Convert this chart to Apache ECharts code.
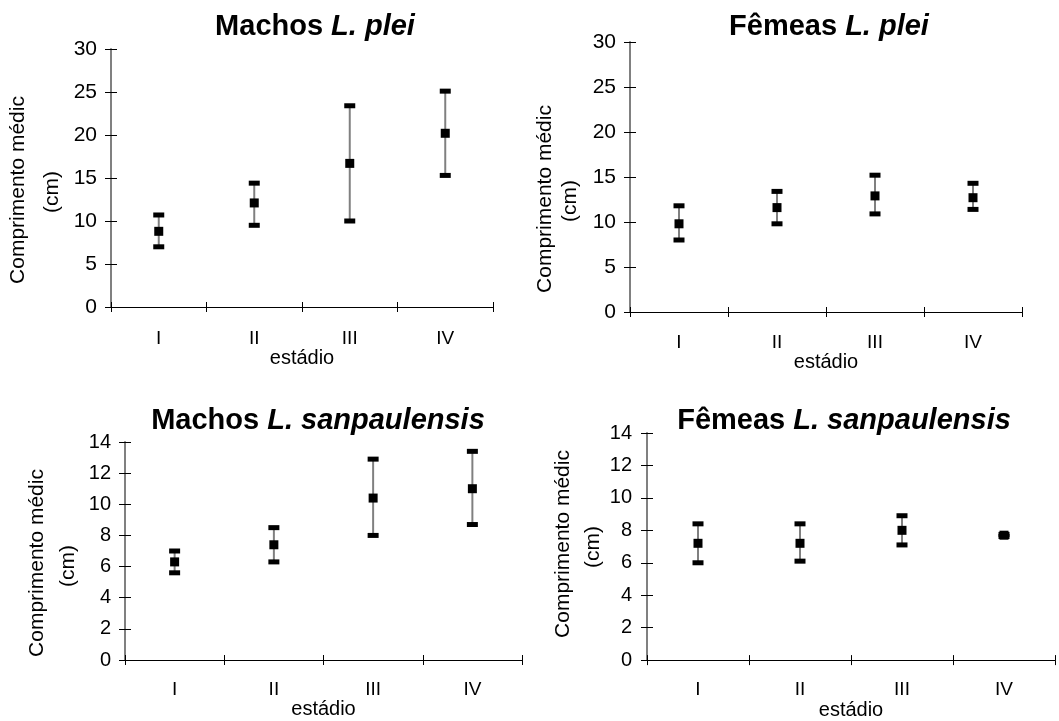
<!DOCTYPE html>
<html>
<head>
<meta charset="utf-8">
<script src="https://cdn.jsdelivr.net/npm/echarts@6/dist/echarts.min.js"></script>
<style>
  html, body { margin:0; padding:0; background:#fff; }
  #chart { width:1059px; height:721px; }
</style>
</head>
<body>
<div id="chart"></div>
<script>
// === Dados ===
const stages = ['I', 'II', 'III', 'IV'];

const machosPleiMean  = [8.8, 12.1, 16.7, 20.2];
const machosPleiUpper = [10.7, 14.4, 23.4, 25.1];
const machosPleiLower = [7.0, 9.5, 10.0, 15.3];

const femeasPleiMean  = [9.8, 11.6, 12.9, 12.7];
const femeasPleiUpper = [11.8, 13.4, 15.2, 14.3];
const femeasPleiLower = [8.0, 9.8, 10.9, 11.4];

const machosSanMean  = [6.3, 7.4, 10.4, 11.0];
const machosSanUpper = [7.0, 8.5, 12.9, 13.4];
const machosSanLower = [5.6, 6.3, 8.0, 8.7];

const femeasSanMean  = [7.2, 7.2, 8.0, 7.7];
const femeasSanUpper = [8.4, 8.4, 8.9, 7.75];
const femeasSanLower = [6.0, 6.1, 7.1, 7.62];

// === Estilo ===
const FONT = "'Liberation Sans', Arial, sans-serif";
const axisGray = '#808080';

// === Painéis ===
const panels = [
  { title:'Machos {i|L. plei}', tx:315, ty:27, grid:{left:111, top:49, width:382, height:258},
    max:30, step:5, yFont:21, yMargin:14, xMargin:22, nameGap:40,
    name1:[18,190], name2:[52,192],
    mean:machosPleiMean, lo:machosPleiLower, hi:machosPleiUpper },
  { title:'Fêmeas {i|L. plei}', tx:829, ty:27, grid:{left:630, top:42, width:392, height:270},
    max:30, step:5, yFont:21, yMargin:14, xMargin:21, nameGap:34,
    name1:[545,199], name2:[570,201],
    mean:femeasPleiMean, lo:femeasPleiLower, hi:femeasPleiUpper },
  { title:'Machos {i|L. sanpaulensis}', tx:318, ty:421, grid:{left:125, top:442, width:397, height:218},
    max:14, step:2, yFont:20, yMargin:14, xMargin:20, nameGap:38,
    name1:[37,563], name2:[68,566],
    mean:machosSanMean, lo:machosSanLower, hi:machosSanUpper },
  { title:'Fêmeas {i|L. sanpaulensis}', tx:844, ty:421, grid:{left:647, top:433, width:408, height:228},
    max:14, step:2, yFont:20, yMargin:15, xMargin:20, nameGap:38,
    name1:[563,544], name2:[593,547],
    mean:femeasSanMean, lo:femeasSanLower, hi:femeasSanUpper }
];

// barra de erro + média (quadrado) em coordenadas do eixo
function renderErr(params, api){
  const x = api.value(0);
  const m  = api.coord([x, api.value(1)]);
  const lo = api.coord([x, api.value(2)]);
  const hi = api.coord([x, api.value(3)]);
  const cx = m[0];
  return { type:'group', children:[
    { type:'line', shape:{x1:cx, y1:hi[1], x2:cx, y2:lo[1]}, style:{stroke:axisGray, lineWidth:2} },
    { type:'rect', shape:{x:cx-5.5, y:hi[1]-2.5, width:11, height:5}, style:{fill:'#000'} },
    { type:'rect', shape:{x:cx-5.5, y:lo[1]-2.5, width:11, height:5}, style:{fill:'#000'} },
    { type:'rect', shape:{x:cx-4.5, y:m[1]-4.5, width:9, height:9}, style:{fill:'#000'} }
  ]};
}

const option = { animation:false, title:[], grid:[], xAxis:[], yAxis:[], series:[], graphic:[] };

panels.forEach((p, k) => {
  option.title.push({
    text:p.title, left:p.tx, top:p.ty, padding:0, textAlign:'center', textVerticalAlign:'middle',
    textStyle:{ fontFamily:FONT, fontSize:29, fontWeight:'bold', color:'#000',
      rich:{ i:{ fontFamily:FONT, fontSize:29, fontWeight:'bold', fontStyle:'italic', color:'#000' } } }
  });
  option.grid.push(p.grid);

  // eixo x principal + cópia só para as marcas internas (marcas cruzadas)
  option.xAxis.push({
    type:'category', gridIndex:k, data:stages, boundaryGap:true,
    name:'estádio', nameLocation:'middle', nameGap:p.nameGap,
    nameTextStyle:{ fontFamily:FONT, fontSize:20, color:'#000' },
    axisLine:{ lineStyle:{ color:'#000', width:1 } },
    axisTick:{ show:true, inside:false, length:5, lineStyle:{ color:'#000' } },
    axisLabel:{ fontFamily:FONT, fontSize:19, color:'#000', margin:p.xMargin, interval:0 },
    splitLine:{ show:false }
  });
  option.xAxis.push({
    type:'category', gridIndex:k, data:stages, boundaryGap:true, position:'bottom',
    axisLine:{ show:false }, axisLabel:{ show:false }, splitLine:{ show:false },
    axisTick:{ show:true, inside:true, length:5, lineStyle:{ color:'#000' } }
  });

  option.yAxis.push({
    type:'value', gridIndex:k, min:0, max:p.max, interval:p.step,
    axisLine:{ show:true, lineStyle:{ color:axisGray, width:2 } },
    axisTick:{ show:true, inside:false, length:6, lineStyle:{ color:'#000' } },
    axisLabel:{ fontFamily:FONT, fontSize:p.yFont, color:'#000', margin:p.yMargin },
    splitLine:{ show:false }
  });
  option.yAxis.push({
    type:'value', gridIndex:k, min:0, max:p.max, interval:p.step, position:'left', offset:0,
    axisLine:{ show:false }, axisLabel:{ show:false }, splitLine:{ show:false },
    axisTick:{ show:true, inside:true, length:6, lineStyle:{ color:'#000' } }
  });

  option.series.push({
    type:'custom', xAxisIndex:2*k, yAxisIndex:2*k, renderItem:renderErr,
    encode:{ x:0, y:[1,2,3] },
    data: stages.map((s, i) => [i, p.mean[i], p.lo[i], p.hi[i]])
  });

  // título do eixo y (duas linhas, rodado)
  [['Comprimento médic', p.name1], ['(cm)', p.name2]].forEach(([t, pos]) => {
    option.graphic.push({
      type:'text', x:pos[0], y:pos[1], rotation:Math.PI/2,
      style:{ text:t, fill:'#000', font:'21px ' + FONT, align:'center', verticalAlign:'middle' }
    });
  });
});

echarts.init(document.getElementById('chart')).setOption(option);
</script>
</body>
</html>
